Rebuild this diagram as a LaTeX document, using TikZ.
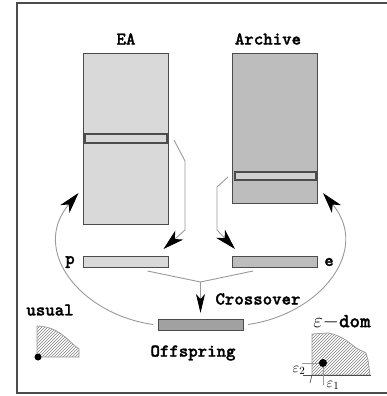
\documentclass[tikz,border=0pt]{standalone}
\usepackage{fontspec}
\newfontfamily\boldtt{lmmonolt10-bold.otf}[FakeBold=1.5]
\usetikzlibrary{arrows.meta}
\usetikzlibrary{patterns}
\definecolor{eafill}{gray}{0.85}
\definecolor{arcfill}{gray}{0.74}
\definecolor{selfill}{gray}{0.82}
\definecolor{offfill}{gray}{0.63}
\definecolor{edge}{gray}{0.3}
\definecolor{wire}{gray}{0.6}
\tikzset{
  pop/.style={draw=edge, line width=1pt, inner sep=0pt, outer sep=0pt, minimum width=85pt},
  lbl/.style={font=\fontsize{18}{18}\selectfont\boldtt, inner sep=1pt},
  wire/.style={draw=wire, line width=0.9pt},
  bigtip/.style={-{Stealth[length=21pt,width=12pt,inset=6pt,color=black]}},
  smalltip/.style={-{Stealth[length=19pt,width=9pt,inset=5pt,color=black]}},
  hatch/.style={draw=wire, line width=0.7pt, pattern=north east lines, pattern color=gray},
}

\begin{document}
\begin{tikzpicture}[x=1pt,y=-1pt]
 \useasboundingbox (0,0) rectangle (386,396);
 % frame (open on the right)
 \draw[edge, line width=1.2pt] (392,3) -- (17,3) -- (17,393) -- (392,393);

 % populations
 \node[pop, fill=eafill, minimum height=170pt] (ea) at (126,139) {};
 \node[pop, fill=arcfill, minimum height=149pt] (arc) at (274.5,128.5) {};
 \node[lbl] (ealbl) at (126,39) {EA};
 \node[lbl] (arclbl) at (268,39) {Archive};

 % chosen members
 \node[pop, fill=eafill, line width=1.4pt, minimum width=82pt, minimum height=9pt] (easel) at (126,138.5) {};
 \node[pop, fill=selfill, line width=1.4pt, minimum width=81pt, minimum height=8pt] (arcsel) at (275.5,176) {};

 % parents
 \node[pop, fill=eafill, minimum height=11pt] (p) at (126,261.5) {};
 \node[pop, fill=arcfill, minimum height=11pt] (e) at (274.5,261.5) {};
 \node[lbl] (plbl) at (70,262) {p};
 \node[lbl] (elbl) at (329,262) {e};

 % child
 \node[pop, fill=offfill, minimum height=11pt] (off) at (200.5,324.5) {};
 \node[lbl] (offlbl) at (193,353) {Offspring};
 \node[lbl] (xlbl) at (258,299) {Crossover};

 % selection
 \draw[wire, bigtip] ([shift={(7,1.5)}]easel.east) -- (185,161) -- (185,230) -- ([shift={(-5,-7)}]p.north east);
 \draw[wire, bigtip] ([shift={(-7,1)}]arcsel.west) -- (217,187) -- (217,230) -- ([shift={(3,-7)}]e.north west);

 % recombination
 \coordinate (mix) at (200.5,282);
 \draw[wire] ([shift={(-21,4)}]p.south east) -- (mix) -- ([shift={(21,4)}]e.south west);
 \draw[wire, smalltip] (mix) -- ([yshift=6pt]off.north);

 % update of both populations
 \draw[wire, bigtip] ([xshift=-5pt]off.west) .. controls (80,314) and (30,250) .. ([shift={(-5,-31)}]ea.south west);
 \draw[wire, bigtip] ([xshift=5pt]off.east) .. controls (321,314) and (371,250) .. ([shift={(6,-10)}]arc.south east);

 % usual dominance
 \node[lbl] (usual) at (50,310) {usual};
 \draw[hatch] (37,357) -- (37,326) -- (46,327) .. controls (60,330) and (68,340) .. (74,345) -- (79,349) -- (79,357) -- cycle;
 \fill (38,357) circle (3.5pt);

 % epsilon dominance
 \node[lbl] (epsdom) at (342,322) {\normalfont\fontsize{20}{20}\selectfont$\varepsilon$\boldtt$-$dom};
 \draw[hatch] (312,375) -- (312,334) -- (328,333) .. controls (345,336) and (352,346) .. (358,349) -- (366,353) -- (368,360) -- (370,375) -- cycle;
 \draw[edge, line width=0.7pt] (303,375) -- (371,375);
 \draw[edge, line width=0.7pt] (312,375) -- (310,383);
 \draw[wire] (302,363) -- (323,363) -- (323,385);
 \fill (323,363) circle (4pt);
 \node[font=\fontsize{15}{15}\selectfont] (eps2) at (299,370) {$\varepsilon_2$};
 \node[font=\fontsize{15}{15}\selectfont] (eps1) at (333,385) {$\varepsilon_1$};
\end{tikzpicture}
\end{document}
